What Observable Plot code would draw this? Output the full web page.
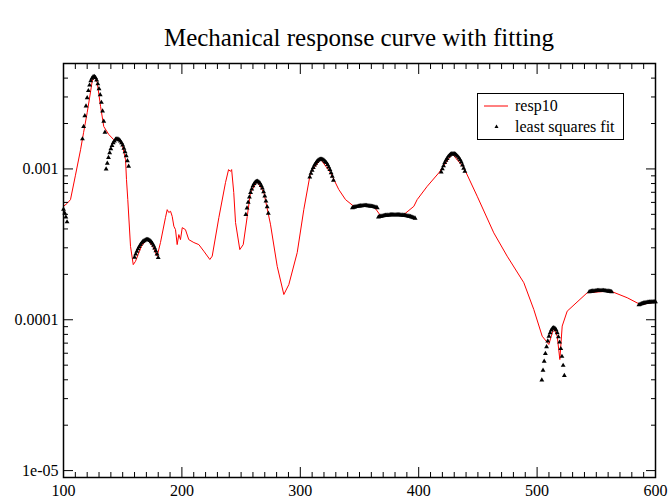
<!DOCTYPE html>
<html><head><meta charset="utf-8">
<script src="https://cdn.jsdelivr.net/npm/d3@7"></script>
<script src="https://cdn.jsdelivr.net/npm/@observablehq/plot@0.6"></script>
<style>
body{margin:0;background:#fff;}
#wrap{position:relative;width:668px;height:500px;font-family:'Liberation Serif','Times New Roman',serif;color:#000;}
#title{position:absolute;left:63px;width:592px;top:24px;text-align:center;font-size:25px;line-height:28px;}
#legend{position:absolute;left:477px;top:93px;width:145px;height:45px;border:1px solid #000;background:#fff;font-size:16px;}
.lg{position:absolute;left:37px;white-space:nowrap;line-height:18px;}
</style></head>
<body>
<div id="wrap">
  <div id="chart"></div>
  <div id="title">Mechanical response curve with fitting</div>
  <div id="legend">
    <svg width="145" height="45" style="position:absolute;left:0;top:0">
      <line x1="6" x2="30" y1="12" y2="12" stroke="red" stroke-width="1"/>
      <path d="M18.5,30.5 L20.5,34 L16.5,34 Z" fill="#000"/>
    </svg>
    <div class="lg" style="top:3px">resp10</div>
    <div class="lg" style="top:24px">least squares fit</div>
  </div>
</div>
<script>
// ---- data ----
const respX = [100,103,105.9,110,114.4,117,120,122,124.2,125.6,127,128.5,131.3,134,138.3,142.5,145.6,149.6,152.4,153.2,154.3,156.6,158.9,160.8,163,166,170.7,175,179.1,181.9,186.1,187.6,188.9,190.4,191.8,193.2,194.6,196,197.4,198.8,200.3,203,205.8,210.1,214.3,218.5,223.6,225.6,231.2,236.8,239.4,241,242,243.8,245.3,248.9,251.8,255.2,257.9,263.6,269.2,274.8,280.5,286.1,290.3,297.4,303,308.6,317.1,325.5,332.5,338.2,345.2,362.1,367.7,387.4,395.9,398.7,407.2,417,428.3,438.1,449.4,463.4,474.7,488.8,497.2,504.3,509.9,514.1,517,519.2,521.2,525.4,542.3,562,576.1,587.3,600];
const respY = [5.65e-4,5.9e-4,6.26e-4,9.0e-4,1.34e-3,1.75e-3,2.36e-3,2.95e-3,3.8e-3,4.1e-3,4.0e-3,3.73e-3,2.6e-3,1.91e-3,1.69e-3,1.56e-3,1.58e-3,1.45e-3,1.15e-3,8.49e-4,6.26e-4,3.07e-4,2.32e-4,2.44e-4,2.7e-4,3.1e-4,3.4e-4,3.1e-4,2.64e-4,3.25e-4,4.75e-4,5.37e-4,5.14e-4,5.24e-4,4.85e-4,4.17e-4,3.96e-4,3.15e-4,3.67e-4,3.4e-4,4.08e-4,3.96e-4,3.4e-4,3.25e-4,3.15e-4,2.85e-4,2.51e-4,2.64e-4,4.75e-4,8.11e-4,9.89e-4,9.64e-4,9.9e-4,6.97e-4,4.41e-4,2.92e-4,3.15e-4,4.85e-4,6.97e-4,8.28e-4,6.97e-4,4.3e-4,2.26e-4,1.47e-4,1.71e-4,2.79e-4,5.4e-4,9.45e-4,1.16e-3,9.45e-4,7.3e-4,6.26e-4,5.65e-4,5.65e-4,4.91e-4,4.98e-4,5.65e-4,6.26e-4,7.67e-4,9.42e-4,1.26e-3,1.02e-3,6.59e-4,3.77e-4,2.64e-4,1.76e-4,1.17e-4,7.78e-5,6.86e-5,8.85e-5,7.78e-5,5.45e-5,9.08e-5,1.14e-4,1.51e-4,1.55e-4,1.4e-4,1.26e-4,1.31e-4];

const fit0X = [100,101,102,103];
const fit0Y = [5.4e-4,5.1e-4,4.8e-4,4.45e-4];
const fit1X = [116,117,118,119,120,121,122,123,124,125,126,127,128,129,130,131,132,133,134,135];
const fit1Y = [1.58e-3,1.91e-3,2.25e-3,2.61e-3,2.96e-3,3.3e-3,3.59e-3,3.83e-3,3.99e-3,4.08e-3,4.09e-3,4.03e-3,3.88e-3,3.66e-3,3.4e-3,3.1e-3,2.76e-3,2.42e-3,2.07e-3,1.75e-3];
const fit2X = [136,137,138,139,140,141,142,143,144,145,146,147,148,149,150,151,152,153,154,155];
const fit2Y = [9.98e-4,1.09e-3,1.19e-3,1.28e-3,1.36e-3,1.43e-3,1.49e-3,1.53e-3,1.57e-3,1.58e-3,1.58e-3,1.56e-3,1.53e-3,1.49e-3,1.44e-3,1.37e-3,1.3e-3,1.22e-3,1.13e-3,1.04e-3];
const fit3X = [160,161,162,163,164,165,166,167,168,169,170,171,172,173,174,175,176,177,178,179,180];
const fit3Y = [2.59e-4,2.72e-4,2.84e-4,2.95e-4,3.05e-4,3.15e-4,3.23e-4,3.3e-4,3.34e-4,3.38e-4,3.4e-4,3.4e-4,3.39e-4,3.35e-4,3.29e-4,3.21e-4,3.11e-4,2.99e-4,2.86e-4,2.73e-4,2.58e-4];
const fit4X = [254,255,256,257,258,259,260,261,262,263,264,265,266,267,268,269,270,271,272,273];
const fit4Y = [4.98e-4,5.5e-4,6.01e-4,6.5e-4,6.97e-4,7.36e-4,7.71e-4,7.98e-4,8.17e-4,8.26e-4,8.28e-4,8.18e-4,8.02e-4,7.76e-4,7.45e-4,7.05e-4,6.61e-4,6.12e-4,5.61e-4,5.08e-4];
const fit5X = [308,309,310,311,312,313,314,315,316,317,318,319,320,321,322,323,324,325,326,327,328];
const fit5Y = [8.83e-4,9.33e-4,9.79e-4,1.02e-3,1.06e-3,1.09e-3,1.12e-3,1.14e-3,1.156e-3,1.16e-3,1.16e-3,1.156e-3,1.14e-3,1.12e-3,1.1e-3,1.07e-3,1.03e-3,9.89e-4,9.42e-4,8.93e-4,8.41e-4];
const fit6X = [344,345,346,347,348,349,350,351,352,353,354,355,356,357,358,359,360,361,362,363,364,365];
const fit6Y = [5.52e-4,5.56e-4,5.59e-4,5.62e-4,5.64e-4,5.66e-4,5.68e-4,5.69e-4,5.7e-4,5.71e-4,5.71e-4,5.71e-4,5.71e-4,5.7e-4,5.69e-4,5.68e-4,5.66e-4,5.64e-4,5.62e-4,5.59e-4,5.56e-4,5.52e-4];
const fit7X = [366,367,368,369,370,371,372,373,374,375,376,377,378,379,380,381,382,383,384,385,386,387,388,389,390,391,392,393,394,395,396,397];
const fit7Y = [4.8e-4,4.83e-4,4.85e-4,4.87e-4,4.89e-4,4.91e-4,4.92e-4,4.93e-4,4.94e-4,4.95e-4,4.96e-4,4.96e-4,4.97e-4,4.97e-4,4.97e-4,4.97e-4,4.97e-4,4.96e-4,4.96e-4,4.95e-4,4.94e-4,4.93e-4,4.92e-4,4.91e-4,4.89e-4,4.87e-4,4.85e-4,4.83e-4,4.8e-4,4.77e-4,4.74e-4,4.71e-4];
const fit8X = [419,420,421,422,423,424,425,426,427,428,429,430,431,432,433,434,435,436,437,438,439];
const fit8Y = [9.52e-4,1.0e-3,1.05e-3,1.1e-3,1.14e-3,1.17e-3,1.21e-3,1.23e-3,1.25e-3,1.26e-3,1.26e-3,1.26e-3,1.25e-3,1.23e-3,1.21e-3,1.18e-3,1.15e-3,1.11e-3,1.06e-3,1.01e-3,9.62e-4];
const fit9X = [504,505,506,507,508,509,510,511,512,513,514,515,516,517,518,519,520,521,522,523];
const fit9Y = [3.98e-5,4.62e-5,5.3e-5,5.97e-5,6.62e-5,7.23e-5,7.76e-5,8.2e-5,8.55e-5,8.77e-5,8.85e-5,8.79e-5,8.57e-5,8.18e-5,7.69e-5,7.1e-5,6.43e-5,5.71e-5,4.98e-5,4.27e-5];
const fit10X = [544,545,546,547,548,549,550,551,552,553,554,555,556,557,558,559,560,561,562,563];
const fit10Y = [1.53e-4,1.537e-4,1.543e-4,1.548e-4,1.552e-4,1.555e-4,1.558e-4,1.56e-4,1.561e-4,1.562e-4,1.562e-4,1.561e-4,1.56e-4,1.558e-4,1.555e-4,1.552e-4,1.548e-4,1.543e-4,1.537e-4,1.53e-4];
const fit11X = [586,587,588,589,590,591,592,593,594,595,596,597,598,599,600];
const fit11Y = [1.255e-4,1.265e-4,1.274e-4,1.282e-4,1.289e-4,1.295e-4,1.3e-4,1.304e-4,1.308e-4,1.311e-4,1.313e-4,1.315e-4,1.316e-4,1.317e-4,1.317e-4];

const xDomain = [100, 600];
const yDomain = [9e-6, 0.005];
const xMajor = [100,200,300,400,500,600];
const xTickLabels = ["100","200","300","400","500","600"];
const xMinor = [110,120,130,140,150,160,170,180,190,210,220,230,240,250,260,270,280,290,310,320,330,340,350,360,370,380,390,410,420,430,440,450,460,470,480,490,510,520,530,540,550,560,570,580,590];
const yMajor = [1e-5,1e-4,1e-3];
const yTickLabels = ["1e-05","0.0001","0.001"];
const yMinor = [2e-5,3e-5,4e-5,5e-5,6e-5,7e-5,8e-5,9e-5,2e-4,3e-4,4e-4,5e-4,6e-4,7e-4,8e-4,9e-4,2e-3,3e-3,4e-3];

// ---- build tables ----
const resp = respX.map((x,i)=>({x, y: respY[i]}));
const fitSets = [[fit0X,fit0Y],[fit1X,fit1Y],[fit2X,fit2Y],[fit3X,fit3Y],[fit4X,fit4Y],[fit5X,fit5Y],[fit6X,fit6Y],[fit7X,fit7Y],[fit8X,fit8Y],[fit9X,fit9Y],[fit10X,fit10Y],[fit11X,fit11Y]];
const fits = fitSets.flatMap(([xs,ys]) => xs.map((x,i)=>({x, y: ys[i]})));
const yLabelRows = yMajor.map((v,i)=>({v, t: yTickLabels[i]}));

const chart = Plot.plot({
  width: 668, height: 500,
  marginLeft: 63, marginRight: 13, marginTop: 63, marginBottom: 23,
  style: {fontFamily: "'Liberation Serif','Times New Roman',serif", fontSize: "16px", color: "#000", background: "#fff", overflow: "visible"},
  x: {type: "linear", domain: xDomain},
  y: {type: "log", domain: yDomain},
  marks: [
    Plot.line(resp, {x: "x", y: "y", stroke: "red", strokeWidth: 1}),
    Plot.dot(fits, {x: "x", y: "y", symbol: "triangle", r: 1.8, fill: "#000", stroke: "none"}),
    // tick labels
    Plot.axisX({anchor: "bottom", ticks: xMajor, tickSize: 0, tickPadding: 7, tickFormat: d => xTickLabels[xMajor.indexOf(d)], label: null}),
    Plot.text(yLabelRows, {y: "v", text: "t", frameAnchor: "left", textAnchor: "end", dx: -5, fill: "#000"}),
    // inward ticks
    Plot.axisX({anchor: "bottom", ticks: xMajor, tickSize: -10, fill: "none", label: null}),
    Plot.axisX({anchor: "bottom", ticks: xMinor, tickSize: -5, fill: "none", label: null}),
    Plot.axisX({anchor: "top", ticks: xMajor, tickSize: -10, fill: "none", label: null}),
    Plot.axisX({anchor: "top", ticks: xMinor, tickSize: -5, fill: "none", label: null}),
    Plot.axisY({anchor: "left", ticks: yMajor, tickSize: -10, fill: "none", label: null}),
    Plot.axisY({anchor: "left", ticks: yMinor, tickSize: -5, fill: "none", label: null}),
    Plot.axisY({anchor: "right", ticks: yMajor, tickSize: -10, fill: "none", label: null}),
    Plot.axisY({anchor: "right", ticks: yMinor, tickSize: -5, fill: "none", label: null}),
    Plot.frame({stroke: "#000", strokeWidth: 1.5})
  ]
});
document.getElementById("chart").appendChild(chart);
</script>
</body></html>
